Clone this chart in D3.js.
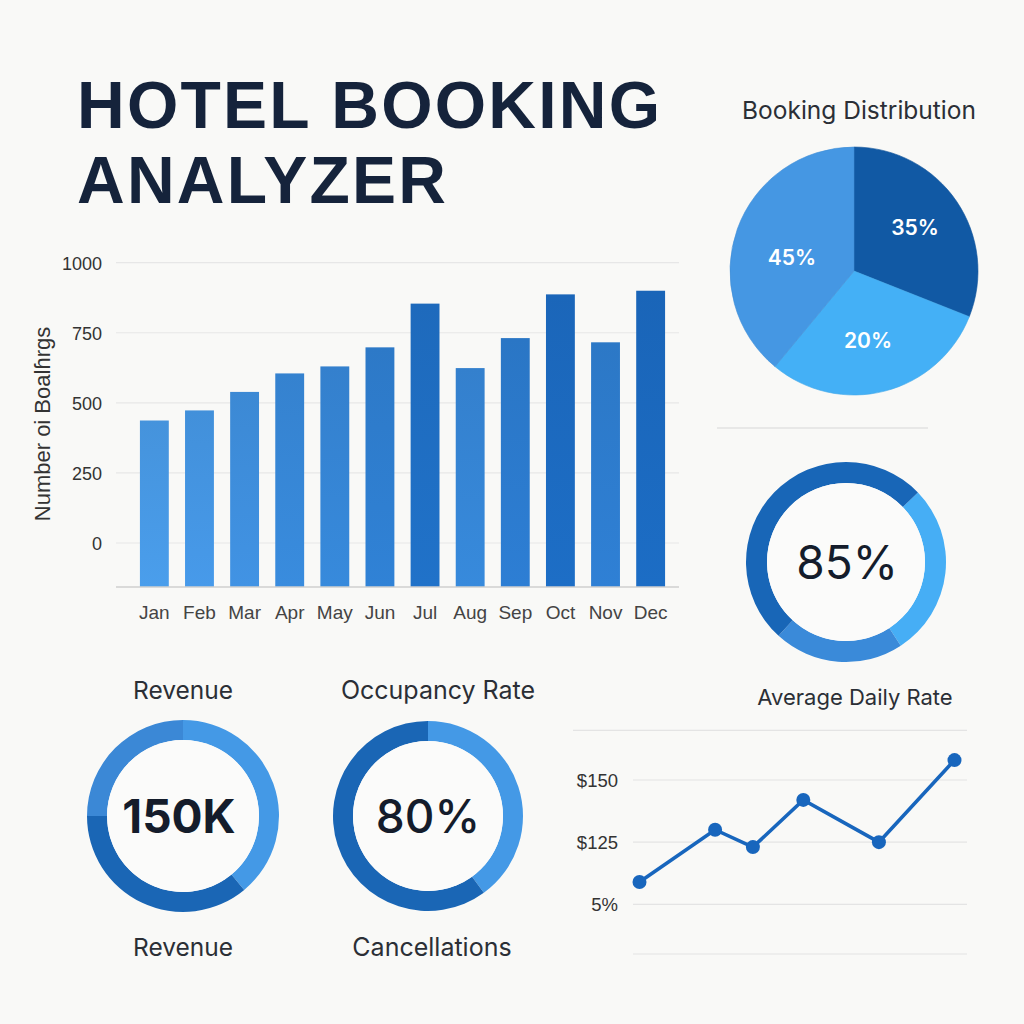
<!DOCTYPE html>
<html>
<head>
<meta charset="utf-8">
<script src="https://cdn.jsdelivr.net/npm/d3@7"></script>
<style>
  html, body { margin: 0; padding: 0; background: #f9f9f7; }
  svg { display: block; }
</style>
</head>
<body>
<svg id="chart" width="1024" height="1024"></svg>
<script>
// ---------------- DATA ----------------
const titleLines = ["HOTEL BOOKING", "ANALYZER"];

const months = ["Jan","Feb","Mar","Apr","May","Jun","Jul","Aug","Sep","Oct","Nov","Dec"];
const bookings = [437, 473, 539, 605, 630, 698, 854, 624, 731, 887, 716, 900];
const bookingTicks = [0, 250, 500, 750, 1000];
const bookingAxisTitle = "Number oi Boalɦrgs";

const distTitle = "Booking Distribution";
const distValues = [31, 30, 39];           // drawn slice sizes
const distLabels = ["35%", "20%", "45%"];  // printed labels

const adrRingValues = [28, 21, 51];
const adrRingLabel = "85%";

const revenueRingValues = [39, 36, 25];
const revenueValue = "150K";
const revenueTop = "Revenue";
const revenueBottom = "Revenue";

const occupancyRingValues = [40, 60];
const occupancyValue = "80%";
const occupancyTop = "Occupancy Rate";
const occupancyBottom = "Cancellations";

const adrTitle = "Average Daily Rate";
const adrDays = [1, 7, 10, 14, 20, 26];
const adrValues = [109, 130, 123, 142, 125, 158];
const adrTickValues = [100, 125, 150];
const adrTickLabels = ["5%", "$125", "$150"];
const adrGridValues = [80, 100, 125, 150];
const adrTopLine = 170;

// ---------------- DRAW ----------------
const svg = d3.select("#chart");
const dark = "#15233b";
const textCol = "#2b2f36";

// Title
const title = svg.append("g").attr("font-family", "'Liberation Sans', Arial, sans-serif")
  .attr("font-weight", 700).attr("fill", dark).attr("font-size", 66);
const t1 = title.append("text").attr("x", 77).attr("y", 128).text(titleLines[0]);
const w1 = t1.node().getComputedTextLength();
const ls = (583 - w1) / (titleLines[0].length - 1);
t1.attr("letter-spacing", ls);
title.append("text").attr("x", 77).attr("y", 203).attr("letter-spacing", ls).text(titleLines[1]);

// ---------- Bar chart ----------
const bx = d3.scaleBand().domain(months).range([131.8, 673.2]).paddingInner(0.36).paddingOuter(0.18);
const by = d3.scaleLinear().domain([-157, 1000]).range([587, 262.7]);
const barColor = d3.scaleLinear().domain([430, 900]).range(["#4898e3", "#1b68bd"]);

const bar = svg.append("g");
bar.selectAll("line.grid").data(bookingTicks).join("line")
  .attr("x1", 116).attr("x2", 679)
  .attr("y1", d => by(d)).attr("y2", d => by(d))
  .attr("stroke", "#e7e7e7").attr("stroke-width", 1.2);

const defs = svg.append("defs");
bookings.forEach((v, i) => {
  const c = d3.color(barColor(v));
  const g = defs.append("linearGradient").attr("id", "bg" + i)
    .attr("x1", 0).attr("x2", 0).attr("y1", 0).attr("y2", 1);
  g.append("stop").attr("offset", "0%").attr("stop-color", c.darker(0.08));
  g.append("stop").attr("offset", "100%").attr("stop-color", c.brighter(0.12));
});

bar.selectAll("rect").data(bookings).join("rect")
  .attr("x", (d, i) => bx(months[i]))
  .attr("width", bx.bandwidth())
  .attr("y", d => by(d))
  .attr("height", d => by(-157) - by(d))
  .attr("fill", (d, i) => `url(#bg${i})`);

bar.append("line").attr("x1", 116).attr("x2", 679).attr("y1", 587).attr("y2", 587)
  .attr("stroke", "#cfcfcf").attr("stroke-width", 1.6);

const yAxis = d3.axisLeft(by).tickValues(bookingTicks).tickFormat(d3.format("d")).tickSize(0).tickPadding(0);
const yg = bar.append("g").attr("transform", "translate(102,0)").call(yAxis);
yg.select(".domain").remove();
yg.selectAll("text").attr("font-family", "'Liberation Sans', Arial, sans-serif")
  .attr("font-size", 18).attr("fill", "#333").attr("dy", "0.36em");

const xAxis = d3.axisBottom(bx).tickSize(0).tickPadding(0);
const xg = bar.append("g").attr("transform", "translate(0,605)").call(xAxis);
xg.select(".domain").remove();
xg.selectAll("text").attr("font-family", "'Liberation Sans', Arial, sans-serif")
  .attr("font-size", 19).attr("fill", "#444").attr("dy", "0.71em");

bar.append("text").attr("transform", "translate(50,424) rotate(-90)")
  .attr("text-anchor", "middle").attr("font-family", "'Liberation Sans', Arial, sans-serif")
  .attr("font-size", 22).attr("fill", "#333").text(bookingAxisTitle);

// ---------- Pie ----------
const pieG = svg.append("g").attr("transform", "translate(854,271)");
svg.append("text").attr("x", 859).attr("y", 119).attr("text-anchor", "middle")
  .attr("font-family", "Inter, sans-serif").attr("font-size", 24.5).attr("fill", textCol)
  .text(distTitle);
const pieColors = ["#1159a4", "#44b0f6", "#4597e3"];
const pie = d3.pie().sort(null).value(d => d);
const pieArcs = pie(distValues);
const arcP = d3.arc().innerRadius(0).outerRadius(124);
pieG.selectAll("path").data(pieArcs).join("path")
  .attr("d", arcP).attr("fill", (d, i) => pieColors[i])
  .attr("stroke", (d, i) => d3.color(pieColors[i]).darker(0.15)).attr("stroke-width", 0.6);
const labelPos = [[61, -44], [14, 69], [-62, -14]];
pieG.selectAll("text").data(pieArcs).join("text")
  .attr("x", (d, i) => labelPos[i][0]).attr("y", (d, i) => labelPos[i][1])
  .attr("dy", "0.36em").attr("text-anchor", "middle")
  .attr("font-family", "Inter, sans-serif").attr("font-weight", 600).attr("font-size", 21)
  .attr("fill", "#fff").text((d, i) => distLabels[i]);

svg.append("line").attr("x1", 717).attr("x2", 928).attr("y1", 428).attr("y2", 428)
  .attr("stroke", "#e2e2e2").attr("stroke-width", 1.3);

// ---------- Rings ----------
function ring(cx, cy, r, th, values, colors, startDeg, label, weight, dx) {
  const g = svg.append("g").attr("transform", `translate(${cx},${cy})`);
  const p = d3.pie().sort(null).value(d => d)
    .startAngle(startDeg * Math.PI / 180).endAngle(startDeg * Math.PI / 180 + 2 * Math.PI);
  const a = d3.arc().innerRadius(r - th).outerRadius(r);
  g.selectAll("path").data(p(values)).join("path").attr("d", a).attr("fill", (d, i) => colors[i]);
  g.append("circle").attr("r", r - th).attr("fill", "#fbfbfa");
  g.append("text").attr("x", dx).attr("text-anchor", "middle").attr("dy", "0.36em")
    .attr("font-family", "Inter, sans-serif").attr("font-weight", weight)
    .attr("font-size", 46).attr("fill", "#141c2b").text(label);
  return g;
}
ring(846, 562, 100, 21, adrRingValues, ["#46aef5", "#3a8ad9", "#1866b7"], 46, adrRingLabel, 400, 1);
ring(183, 816, 96, 20, revenueRingValues, ["#4499e6", "#1a66b5", "#3b88d6"], 0, revenueValue, 700, -4);
ring(428, 816, 95, 20, occupancyRingValues, ["#4499e6", "#1a66b5"], 0, occupancyValue, 500, 0);

function label(x, y, s, size) {
  svg.append("text").attr("x", x).attr("y", y).attr("text-anchor", "middle")
    .attr("font-family", "Inter, sans-serif").attr("font-size", size).attr("fill", textCol).text(s);
}
label(183, 699, revenueTop, 24.5);
label(183, 956, revenueBottom, 24.5);
label(438, 699, occupancyTop, 25);
label(432, 956, occupancyBottom, 25);
label(855, 705, adrTitle, 22);

// ---------- Line chart ----------
const lx = d3.scaleLinear().domain([1, 26]).range([639.5, 954.5]);
const ly = d3.scaleLinear().domain([100, 150]).range([904.3, 780]);
const lg = svg.append("g");
lg.selectAll("line.g").data(adrGridValues).join("line")
  .attr("x1", 633).attr("x2", 967).attr("y1", d => ly(d)).attr("y2", d => ly(d))
  .attr("stroke", "#e4e4e4").attr("stroke-width", 1.2);
lg.append("line").attr("x1", 573).attr("x2", 967).attr("y1", ly(adrTopLine)).attr("y2", ly(adrTopLine))
  .attr("stroke", "#e4e4e4").attr("stroke-width", 1.2);
const la = d3.axisLeft(ly).tickValues(adrTickValues).tickFormat((d, i) => adrTickLabels[i])
  .tickSize(0).tickPadding(0);
const lag = lg.append("g").attr("transform", "translate(618,0)").call(la);
lag.select(".domain").remove();
lag.selectAll("text").attr("font-family", "'Liberation Sans', Arial, sans-serif")
  .attr("font-size", 18.5).attr("fill", "#333").attr("dy", "0.36em");
const pts = adrDays.map((d, i) => [d, adrValues[i]]);
lg.append("path").datum(pts)
  .attr("d", d3.line().x(d => lx(d[0])).y(d => ly(d[1])))
  .attr("fill", "none").attr("stroke", "#1866bd").attr("stroke-width", 3.6);
lg.selectAll("circle").data(pts).join("circle")
  .attr("cx", d => lx(d[0])).attr("cy", d => ly(d[1])).attr("r", 7)
  .attr("fill", "#1866bd");
</script>
</body>
</html>
